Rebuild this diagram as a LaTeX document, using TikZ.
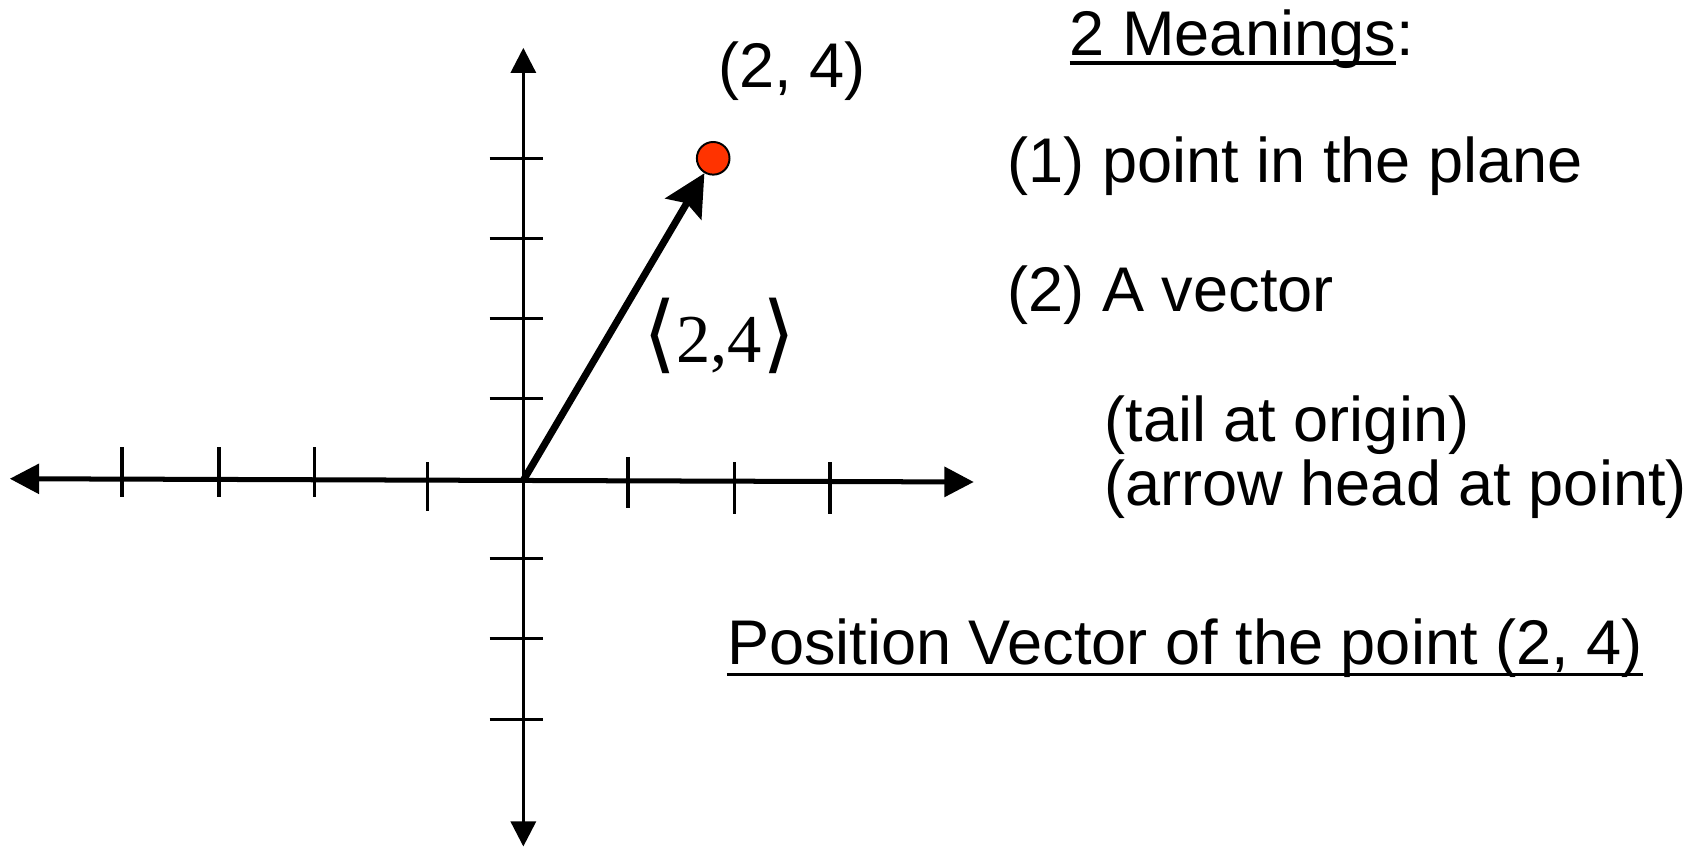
\documentclass[tikz,border=0pt]{standalone}
\usepackage{fontspec}
\setmainfont{Liberation Sans}
\newfontfamily\seriffont{Liberation Serif}
\newfontfamily\djvfont{DejaVu Sans}
\usetikzlibrary{arrows.meta}
\definecolor{ptred}{RGB}{255,51,0}
\tikzset{
  txt/.style={anchor=base west, inner sep=0pt, font=\fontsize{58}{60}\selectfont},
  haxis/.style={line width=4.6pt, {Triangle[length=27pt,width=27pt]}-{Triangle[length=27pt,width=27pt]}},
  vaxis/.style={line width=2.8pt, {Triangle[length=23pt,width=23pt]}-{Triangle[length=23pt,width=23pt]}},
  xtick/.style={line width=3.5pt},
  ytick/.style={line width=2.8pt},
  vec/.style={line width=6.5pt, -{Stealth[length=38pt,width=38pt,inset=6pt]}},
  uline/.style={line width=3.5pt},
}
\begin{document}
\begin{tikzpicture}[x=1pt,y=-1pt]
\useasboundingbox (0,0) rectangle (1568,778);
% axes
\coordinate (xl) at (9,440);
\coordinate (xr) at (895,443);
\coordinate (yt) at (481,44);
\coordinate (yb) at (481,778);
\coordinate (O) at (481,441.5);
\draw[haxis] (xl) -- (xr);
\draw[vaxis] (yb) -- (yt);
% x ticks
\foreach \x/\a/\b in {112/411/457, 201/411/457, 289/411/457, 393/425/470, 577/420/467, 675/425/472, 763/425/472}
  \draw[xtick] (\x,\a) -- (\x,\b);
% y ticks
\foreach \y in {146,219,293,366,513,587,661}
  \draw[ytick] (450,\y) -- (499,\y);
% point and vector
\node[circle, fill=ptred, draw=black, line width=1.8pt, minimum size=30pt, inner sep=0pt] (P) at (655.5,145.5) {};
\draw[vec] (O) -- (P);
\node[txt] (plab) at (660,80) {(2, 4)};
\node[anchor=base west, inner sep=0pt, font=\fontsize{63}{65}\selectfont] (vlab) at (591,333) {{\djvfont\fontsize{78}{78}\selectfont ⟨}{\seriffont 2,4}{\djvfont\fontsize{78}{78}\selectfont ⟩}};
% right texts
\node[txt] (m1) at (983,50.6) {2 Meanings};
\node[txt, anchor=base west] (m2) at (m1.base east) {:};
\draw[uline] ([yshift=-7.5pt]m1.base west) -- ([yshift=-7.5pt]m1.base east);
\node[txt] (t1) at (926,168) {(1) point in the plane};
\node[txt] (t2) at (926,286) {(2) A vector};
\node[txt] (t3) at (1015,406) {(tail at origin)};
\node[txt] (t4) at (1015,465) {(arrow head at point)};
\node[txt] (pv) at (668,611) {Position Vector of the point (2, 4)};
\draw[uline] ([yshift=-9pt]pv.base west) -- ([yshift=-9pt]pv.base east);
\end{tikzpicture}
\end{document}
